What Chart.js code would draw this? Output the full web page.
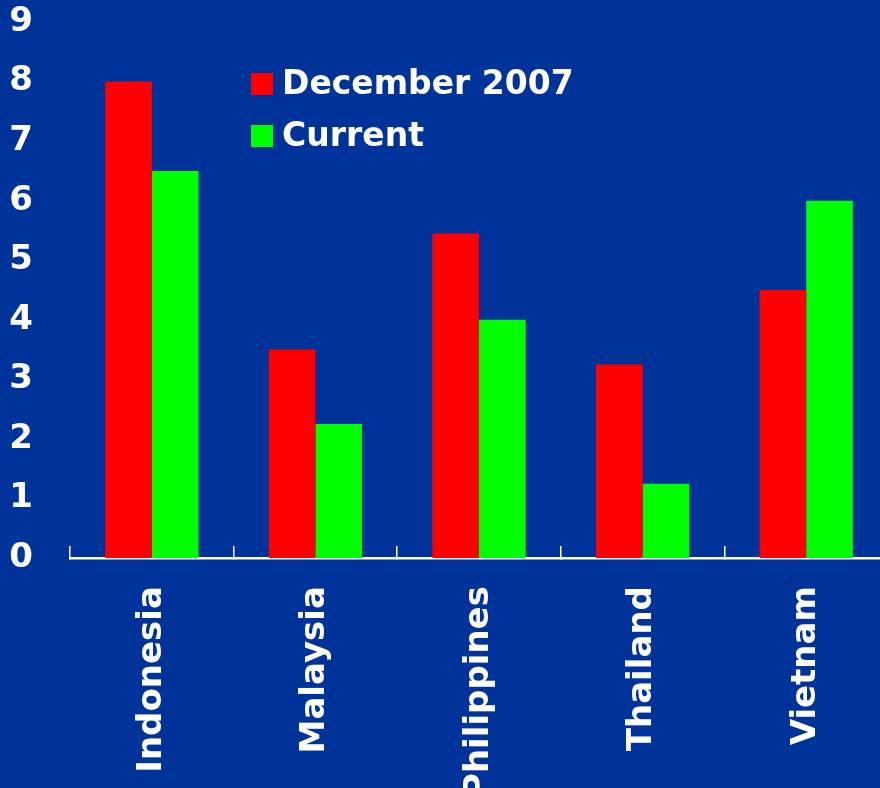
<!DOCTYPE html>
<html>
<head>
<meta charset="utf-8">
<script src="https://cdn.jsdelivr.net/npm/chart.js@4.4.0/dist/chart.umd.min.js"></script>
<style>
html, body { margin: 0; padding: 0; background: #003399; overflow: hidden; }
#wrap { width: 880px; height: 788px; overflow: hidden; }
canvas { display: block; }
</style>
</head>
<body>
<div id="wrap"><canvas id="chart" width="900" height="798"></canvas></div>
<script>
// data
const countries = ["Indonesia", "Malaysia", "Philippines", "Thailand", "Vietnam"];
const seriesNames = ["December 2007", "Current"];
const dec2007 = [8, 3.5, 5.45, 3.25, 4.5];
const current = [6.5, 2.25, 4, 1.25, 6];
const yMin = 0;
const yMax = 9;

const FONT = { family: "'DejaVu Sans', Verdana, sans-serif", size: 34, weight: "bold" };

// legend drawn inside the plot area
const innerLegend = {
    id: "innerLegend",
    afterDraw(chart) {
        const ctx = chart.ctx;
        const area = chart.chartArea;
        const x0 = area.left + 181;
        const y0 = area.top + 62;
        ctx.save();
        ctx.font = "bold 33px 'DejaVu Sans', Verdana, sans-serif";
        ctx.textBaseline = "middle";
        chart.data.datasets.forEach((ds, i) => {
            const y = y0 + i * 52;
            ctx.fillStyle = ds.backgroundColor;
            ctx.fillRect(x0, y - 11, 22, 22);
            ctx.fillStyle = "#ffffff";
            ctx.fillText(ds.label, x0 + 31, y + 1);
        });
        ctx.restore();
    }
};

new Chart(document.getElementById("chart"), {
    type: "bar",
    data: {
        labels: countries,
        datasets: [
            { label: seriesNames[0], data: dec2007, backgroundColor: "#ff0000" },
            { label: seriesNames[1], data: current, backgroundColor: "#00ff00" }
        ]
    },
    options: {
        responsive: false,
        animation: false,
        devicePixelRatio: 1,
        layout: { padding: { left: 10, right: 12, top: 22, bottom: 0 } },
        datasets: {
            bar: { categoryPercentage: 0.57, barPercentage: 1.0, borderWidth: 0 }
        },
        plugins: {
            legend: { display: false },
            tooltip: { enabled: false }
        },
        scales: {
            x: {
                grid: {
                    drawOnChartArea: false,
                    drawTicks: true,
                    tickLength: -12,
                    color: "#ffffff",
                    lineWidth: 1.5
                },
                border: { display: true, color: "#ffffff", width: 2.5 },
                ticks: {
                    color: "#ffffff",
                    font: FONT,
                    minRotation: 90,
                    maxRotation: 90,
                    padding: 40,
                    autoSkip: false
                },
                afterFit(scale) {
                    // padding only needed once, above the labels
                    scale.height -= scale.options.ticks.padding;
                }
            },
            y: {
                min: yMin,
                max: yMax,
                grid: { display: false, drawTicks: false },
                border: { display: false },
                ticks: {
                    stepSize: 1,
                    color: "#ffffff",
                    font: FONT,
                    padding: 37
                },
                afterFit(scale) {
                    scale.width = 60;
                    scale.paddingTop = 0;
                    scale.paddingBottom = 0;
                }
            }
        }
    },
    plugins: [innerLegend]
});
</script>
</body>
</html>
